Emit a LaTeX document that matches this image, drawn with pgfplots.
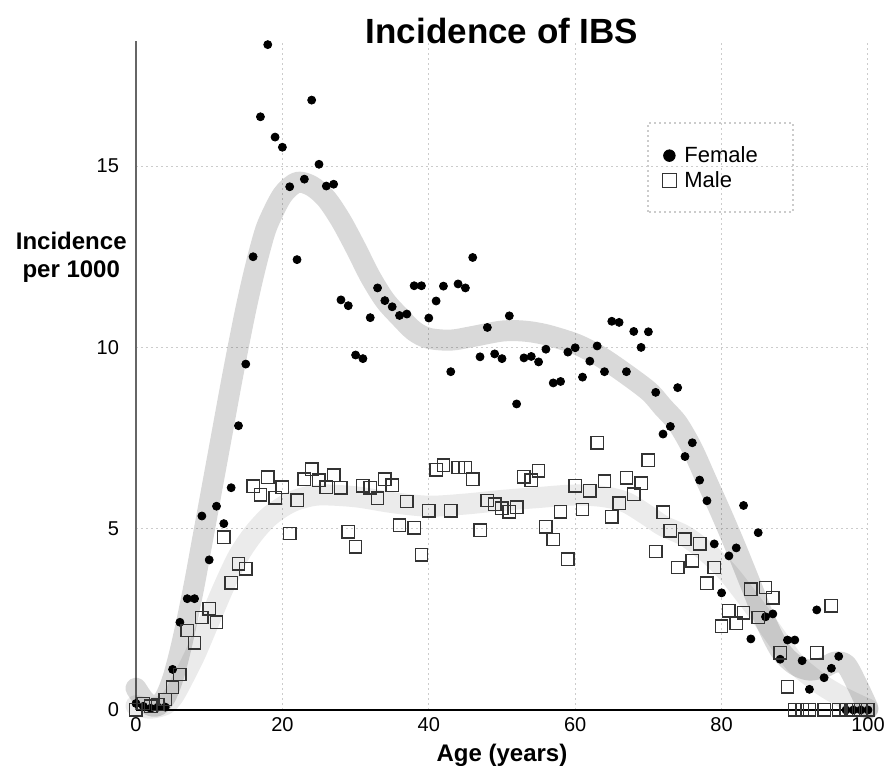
\documentclass[border=0pt]{standalone}
\usepackage{fontspec}
\setmainfont{Liberation Sans}
\usepackage{pgfplots}
\pgfplotsset{compat=1.18}

\begin{document}
\begin{tikzpicture}
\begin{axis}[
  scale only axis, width=366pt, height=334.5pt,
  xmin=0, xmax=100, ymin=0, ymax=18.45,
  axis x line=bottom, axis y line=left,
  axis line style={-},
  x axis line style={black, line width=0.8pt},
  y axis line style={black!60, line width=1pt},
  xtick={0,20,...,100}, ytick={0,5,10,15},
  major tick length=0pt,
  grid=major,
  grid style={black!20, line width=0.5pt, dash pattern=on 1pt off 1.5pt},
  tick label style={font=\fontsize{10}{12}\selectfont},
  /pgf/number format/assume math mode=true,
  yticklabel style={xshift=-5pt},
  title={Incidence of IBS},
  title style={font=\fontsize{17.5}{20}\selectfont\bfseries, at={(axis description cs:0.5,1)}, anchor=base, yshift=-7.5pt},
  xlabel={Age (years)},
  xlabel style={font=\fontsize{12}{14}\selectfont\bfseries, at={(axis description cs:0.5,0)}, anchor=base, yshift=-26pt},
  clip=false,
  legend image code/.code={\draw[#1] plot coordinates {(0pt,0pt)};},
  legend style={at={(axis description cs:0.7186,0.810)}, anchor=west, draw=none, fill=none,
    inner sep=0pt, row sep=1pt, column sep=3pt, nodes={inner sep=1pt}, font=\fontsize{11}{13}\selectfont},
  legend cell align=left,
]
% smoothed trends (wide grey bands)
\addplot[draw=black, opacity=0.15, line width=10.5pt, line cap=round, line join=round, smooth, forget plot] coordinates {
(0,0.6) (1,0.3) (2,0.12) (3,0.12) (4,0.35) (5,0.85) (6,1.6) (7,2.5) (8,3.5) (9,4.6) (10,5.7)
(11,6.8) (12,7.9) (13,9.0) (14,10.05) (15,11.05) (16,11.95) (17,12.75) (18,13.4) (20,14.2)
(22,14.55) (24,14.45) (26,14.1) (28,13.5) (30,12.75) (32,11.95) (34,11.3) (36,10.85) (38,10.45)
(40,10.25) (43,10.2) (46,10.3) (50,10.45) (53,10.45) (56,10.35) (60,10.1) (63,9.8) (66,9.4)
(70,8.8) (72,8.35) (74,7.9) (76,7.2) (78,6.3) (80,5.4) (82,4.45) (84,3.45) (86,2.45) (88,1.65)
(90,1.25) (92,1.1) (94,1.18) (95.5,1.32) (97,1.25) (98.5,0.7) (100,0.05)
};
\addplot[draw=black, opacity=0.08, line width=10.5pt, line cap=round, line join=round, smooth, forget plot] coordinates {
(0,0.12) (2,0.05) (4,0.15) (5,0.35) (6,0.7) (8,1.5) (10,2.45) (12,3.4) (14,4.25) (16,4.85)
(18,5.3) (20,5.6) (22,5.8) (25,5.93) (30,5.88) (35,5.72) (40,5.62) (45,5.68) (50,5.78)
(55,5.86) (60,5.93) (64,5.88) (67,5.72) (70,5.35) (72,5.08) (75,4.8) (78,4.35) (81,3.75)
(85,2.7) (88,1.85) (90,1.3) (92,0.95) (94,0.65) (97,0.3) (100,0.02)
};
% female
\addplot[only marks, mark=*, mark size=2pt, black, forget plot] coordinates {
(0,0.18) (1,0.1) (2,0.05) (3,0.08) (4,0.08) (5,1.12) (6,2.42) (7,3.07) (8,3.07) (9,5.35)
(10,4.14) (11,5.62) (12,5.14) (13,6.13) (14,7.84) (15,9.54) (16,12.5) (17,16.36) (18,18.35)
(19,15.8) (20,15.52) (21,14.43) (22,12.42) (23,14.64) (24,16.82) (25,15.05) (26,14.45)
(27,14.5) (28,11.31) (29,11.15) (30,9.79) (31,9.69) (32,10.82) (33,11.64) (34,11.29)
(35,11.12) (36,10.88) (37,10.92) (38,11.7) (39,11.7) (40,10.81) (41,11.28) (42,11.69)
(43,9.33) (44,11.75) (45,11.64) (46,12.48) (47,9.74) (48,10.55) (49,9.82) (50,9.69)
(51,10.87) (52,8.44) (53,9.71) (54,9.75) (55,9.6) (56,9.95) (57,9.02) (58,9.06) (59,9.87)
(60,9.99) (61,9.18) (62,9.62) (63,10.04) (64,9.33) (65,10.72) (66,10.69) (67,9.33)
(68,10.44) (69,10.0) (70,10.43) (71,8.76) (72,7.61) (73,7.82) (74,8.89) (75,6.99) (76,7.37)
(77,6.34) (78,5.77) (79,4.58) (80,3.23) (81,4.25) (82,4.47) (83,5.64) (84,1.96) (85,4.89)
(86,2.57) (87,2.65) (88,1.40) (89,1.93) (90,1.93) (91,1.36) (92,0.57) (93,2.76) (94,0.89)
(95,1.15) (96,1.48) (97,0) (98,0) (99,0) (100,0)
};
% male
\addplot[only marks, mark=square, mark size=3.1pt, black!80, mark options={line width=0.7pt}, forget plot] coordinates {
(0,0.0) (1,0.18) (2,0.1) (3,0.15) (4,0.29) (5,0.63) (6,0.98) (7,2.19) (8,1.85) (9,2.55)
(10,2.79) (11,2.42) (12,4.76) (13,3.51) (14,4.03) (15,3.89) (16,6.17) (17,5.93) (18,6.42)
(19,5.85) (20,6.14) (21,4.87) (22,5.79) (23,6.36) (24,6.64) (25,6.34) (26,6.14) (27,6.47)
(28,6.13) (29,4.91) (30,4.5) (31,6.18) (32,6.13) (33,5.84) (34,6.36) (35,6.2) (36,5.1)
(37,5.75) (38,5.03) (39,4.28) (40,5.49) (41,6.62) (42,6.75) (43,5.49) (44,6.69) (45,6.69)
(46,6.36) (47,4.96) (48,5.78) (49,5.68) (50,5.56) (51,5.47) (52,5.59) (53,6.43) (54,6.34)
(55,6.6) (56,5.05) (57,4.7) (58,5.47) (59,4.16) (60,6.18) (61,5.53) (62,6.04) (63,7.37)
(64,6.31) (65,5.33) (66,5.7) (67,6.4) (68,5.95) (69,6.25) (70,6.89) (71,4.37) (72,5.45)
(73,4.94) (74,3.93) (75,4.71) (76,4.11) (77,4.58) (78,3.5) (79,3.93) (80,2.31) (81,2.74)
(82,2.39) (83,2.68) (84,3.33) (85,2.55) (86,3.38) (87,3.09) (88,1.58) (89,0.64) (90,0)
(91,0) (92,0) (93,1.58) (94,0) (95,2.87) (96,0) (97,0) (98,0) (99,0) (100,0)
};
\addlegendimage{only marks, mark=*, mark size=2.9pt, black}
\addlegendentry{Female}
\addlegendimage{only marks, mark=square, mark size=3.5pt, black!80, mark options={line width=0.7pt}}
\addlegendentry{Male}
\draw[black!20, line width=0.6pt, dash pattern=on 1pt off 1.5pt]
  (axis description cs:0.6995,0.7444) rectangle (axis description cs:0.8975,0.8774);
\node[font=\fontsize{12}{14}\selectfont\bfseries, align=center, anchor=east, inner sep=0pt, xshift=-4.5pt]
  at (axis description cs:0,0.676) {Incidence\\per 1000};
\end{axis}
\pgfresetboundingbox
\path (-68pt,-28pt) rectangle (374.5pt,355pt);
\end{tikzpicture}
\end{document}
